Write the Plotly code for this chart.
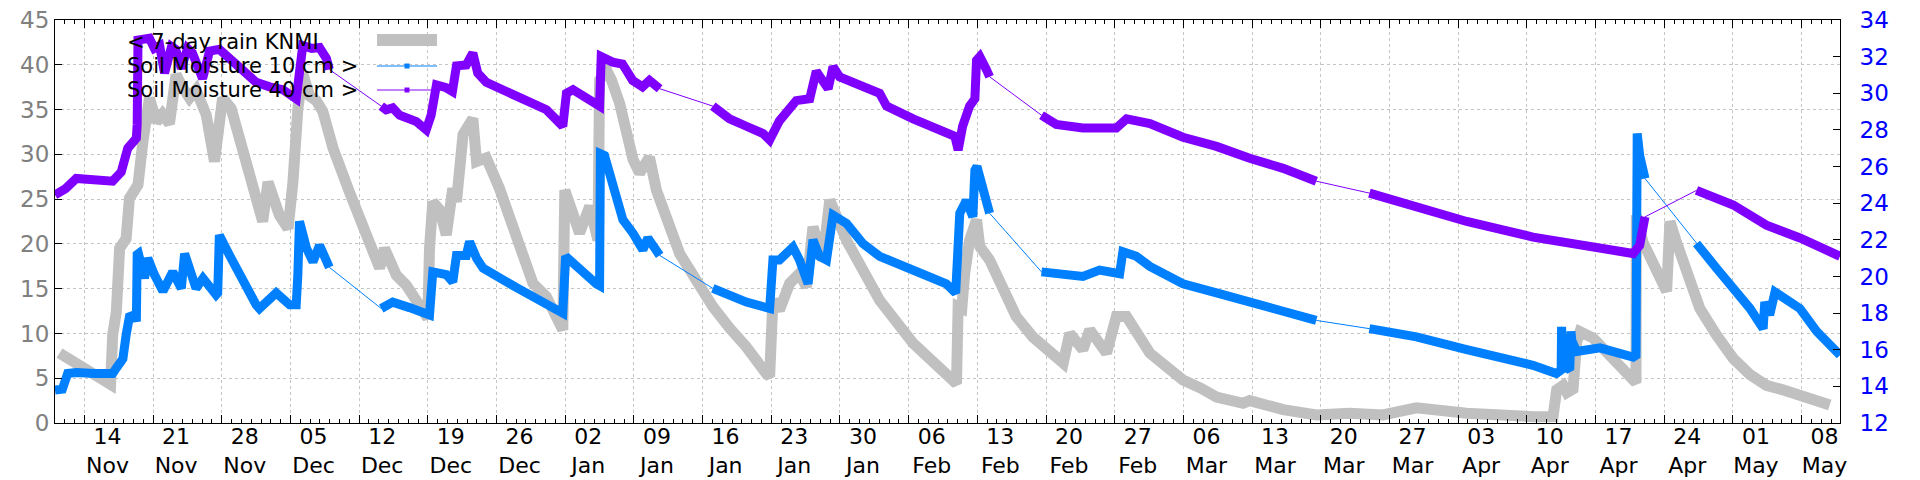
import plotly.graph_objects as go

# ---------------- data ----------------
rain_dates = [
    "2022-11-11 11:00", "2022-11-13 12:00", "2022-11-16 16:00", "2022-11-16 21:00", "2022-11-17 06:00",
    "2022-11-17 14:00", "2022-11-18 06:00", "2022-11-18 14:00", "2022-11-19 11:00", "2022-11-19 23:00",
    "2022-11-20 15:00", "2022-11-21 08:00", "2022-11-21 23:00", "2022-11-22 16:00", "2022-11-23 08:00",
    "2022-11-24 00:00", "2022-11-24 17:00", "2022-11-25 09:00", "2022-11-26 10:00", "2022-11-27 06:00",
    "2022-11-27 18:00", "2022-11-28 02:00", "2022-11-28 23:00", "2022-11-30 03:00", "2022-12-01 12:00",
    "2022-12-02 04:00", "2022-12-02 17:00", "2022-12-03 21:00", "2022-12-04 18:00", "2022-12-05 06:00",
    "2022-12-05 18:00", "2022-12-06 06:00", "2022-12-06 23:00", "2022-12-07 15:00", "2022-12-08 07:00",
    "2022-12-09 08:00", "2022-12-11 00:00", "2022-12-12 17:00", "2022-12-14 02:00", "2022-12-14 14:00",
    "2022-12-15 19:00", "2022-12-16 19:00", "2022-12-18 12:00", "2022-12-19 00:00", "2022-12-19 04:00",
    "2022-12-19 12:00", "2022-12-20 05:00", "2022-12-20 21:00", "2022-12-21 13:00", "2022-12-21 22:00",
    "2022-12-22 14:00", "2022-12-23 14:00", "2022-12-23 23:00", "2022-12-24 23:00", "2022-12-26 07:00",
    "2022-12-28 00:00", "2022-12-29 17:00", "2022-12-31 02:00", "2023-01-01 18:00", "2023-01-01 23:00",
    "2023-01-02 19:00", "2023-01-03 11:00", "2023-01-04 12:00", "2023-01-05 08:00", "2023-01-05 12:00",
    "2023-01-06 05:00", "2023-01-06 17:00", "2023-01-07 13:00", "2023-01-08 22:00", "2023-01-09 14:00",
    "2023-01-10 14:00", "2023-01-11 07:00", "2023-01-13 16:00", "2023-01-15 09:00", "2023-01-17 01:00",
    "2023-01-18 18:00", "2023-01-20 11:00", "2023-01-22 12:00", "2023-01-22 20:00", "2023-01-23 04:00",
    "2023-01-23 20:00", "2023-01-24 21:00", "2023-01-25 21:00", "2023-01-26 14:00", "2023-01-27 06:00",
    "2023-01-28 06:00", "2023-01-28 23:00", "2023-01-30 16:00", "2023-02-01 08:00", "2023-02-03 01:00",
    "2023-02-06 11:00", "2023-02-09 20:00", "2023-02-10 21:00", "2023-02-11 01:00", "2023-02-11 10:00",
    "2023-02-11 17:00", "2023-02-12 05:00", "2023-02-12 22:00", "2023-02-13 06:00", "2023-02-14 06:00",
    "2023-02-16 23:00", "2023-02-18 16:00", "2023-02-20 09:00", "2023-02-21 18:00", "2023-02-22 10:00",
    "2023-02-23 18:00", "2023-02-24 11:00", "2023-02-26 04:00", "2023-02-27 04:00", "2023-02-28 05:00",
    "2023-03-02 14:00", "2023-03-04 09:00", "2023-03-05 23:00", "2023-03-07 18:00", "2023-03-09 09:00",
    "2023-03-12 02:00", "2023-03-12 18:00", "2023-03-16 04:00", "2023-03-19 13:00", "2023-03-22 23:00",
    "2023-03-26 08:00", "2023-03-29 18:00", "2023-04-02 04:00", "2023-04-03 21:00", "2023-04-10 15:00",
    "2023-04-12 16:00", "2023-04-13 01:00", "2023-04-13 17:00", "2023-04-14 02:00", "2023-04-14 17:00",
    "2023-04-15 02:00", "2023-04-15 10:00", "2023-04-16 18:00", "2023-04-20 20:00", "2023-04-21 03:00",
    "2023-04-21 04:00", "2023-04-21 20:00", "2023-04-24 06:00", "2023-04-24 14:00", "2023-04-25 06:00",
    "2023-04-26 10:00", "2023-04-27 15:00", "2023-04-29 08:00", "2023-05-01 01:00", "2023-05-02 18:00",
    "2023-05-04 10:00", "2023-05-06 02:00", "2023-05-07 20:00", "2023-05-10 21:00",
]
rain_mm = [
    7.8, 6.3, 4.3, 9.8, 12.4,
    19.5, 20.6, 25.1, 26.6, 31.4,
    36.3, 33.6, 34.5, 33.4, 38.9,
    37.5, 36.3, 37.2, 34.4, 29.2,
    33.3, 36.3, 35.1, 30.7, 24.7,
    22.5, 26.9, 23.2, 21.7, 26.9,
    35.1, 39.0, 36.5, 36.0, 34.8,
    30.7, 25.8, 21.4, 17.3, 19.5,
    16.5, 15.4, 12.1, 11.7, 19.5,
    24.7, 23.8, 21.0, 26.2, 24.7,
    32.2, 34.0, 29.2, 29.6, 26.2,
    21.3, 15.6, 14.1, 10.4, 26.0,
    23.4, 21.2, 24.2, 20.4, 38.3,
    39.4, 38.3, 35.7, 29.4, 27.9,
    29.7, 26.0, 18.9, 15.6, 13.0,
    10.6, 8.5, 5.5, 5.2, 13.7,
    12.6, 15.6, 16.7, 15.2, 21.9,
    18.2, 24.9, 20.4, 17.1, 13.7,
    8.9, 5.2, 4.4, 13.0, 12.8,
    16.7, 20.4, 22.7, 19.7, 18.2,
    11.9, 9.6, 7.8, 6.7, 10.0,
    8.2, 10.4, 7.8, 11.9, 11.9,
    7.8, 6.1, 4.8, 3.9, 2.9,
    2.2, 2.5, 1.5, 0.9, 1.1,
    0.9, 1.7, 1.2, 1.1, 0.7,
    0.7, 3.7, 4.2, 3.4, 3.8,
    9.1, 10.2, 9.5, 5.0, 4.5,
    23.2, 20.2, 14.7, 22.5, 20.2,
    16.2, 12.8, 9.8, 7.2, 5.4,
    4.2, 3.7, 3.1, 2.0,
]

# Soil moisture 10 cm (None = logger gap)
sm10_dates = [
    "2022-11-11 00:00", "2022-11-11 18:00", "2022-11-12 07:00", "2022-11-13 04:00", "2022-11-15 01:00",
    "2022-11-16 21:00", "2022-11-17 06:00", "2022-11-17 22:00", "2022-11-18 06:00", "2022-11-18 14:00",
    "2022-11-19 02:00", "2022-11-19 07:00", "2022-11-19 09:00", "2022-11-19 12:00", "2022-11-20 03:00",
    "2022-11-20 11:00", "2022-11-21 03:00", "2022-11-22 00:00", "2022-11-23 00:00", "2022-11-23 21:00",
    "2022-11-24 05:00", "2022-11-25 09:00", "2022-11-26 02:00", "2022-11-27 10:00", "2022-11-27 14:00",
    "2022-11-27 18:00", "2022-11-28 19:00", "2022-11-30 03:00", "2022-12-01 12:00", "2022-12-01 20:00",
    "2022-12-02 16:00", "2022-12-03 13:00", "2022-12-04 22:00", "2022-12-05 14:00", "2022-12-05 18:00",
    "2022-12-05 22:00", "2022-12-06 15:00", "2022-12-07 07:00", "2022-12-07 23:00", "2022-12-08 23:00",
    "2022-12-11 12:00",
    "2022-12-14 06:00", "2022-12-15 10:00", "2022-12-17 03:00", "2022-12-18 20:00", "2022-12-19 04:00",
    "2022-12-19 12:00", "2022-12-20 21:00", "2022-12-21 13:00", "2022-12-21 22:00", "2022-12-22 22:00",
    "2022-12-23 06:00", "2022-12-23 23:00", "2022-12-24 15:00", "2022-12-28 00:00", "2022-12-31 02:00",
    "2023-01-01 18:00", "2023-01-02 01:00", "2023-01-02 19:00", "2023-01-05 04:00", "2023-01-05 12:00",
    "2023-01-05 14:00", "2023-01-06 00:00", "2023-01-06 21:00", "2023-01-07 21:00", "2023-01-08 22:00",
    "2023-01-09 22:00", "2023-01-10 10:00", "2023-01-11 15:00",
    "2023-01-14 08:00",
    "2023-01-17 01:00", "2023-01-18 18:00", "2023-01-20 11:00", "2023-01-22 20:00", "2023-01-23 04:00",
    "2023-01-23 20:00", "2023-01-25 05:00", "2023-01-25 21:00", "2023-01-26 18:00", "2023-01-27 06:00",
    "2023-01-27 22:00", "2023-01-28 15:00", "2023-01-29 07:00", "2023-01-30 16:00", "2023-02-01 08:00",
    "2023-02-03 01:00", "2023-02-06 11:00", "2023-02-09 20:00", "2023-02-10 19:00", "2023-02-11 01:00",
    "2023-02-11 05:00", "2023-02-11 21:00", "2023-02-12 13:00", "2023-02-12 18:00", "2023-02-12 23:00",
    "2023-02-14 06:00",
    "2023-02-17 00:00",
    "2023-02-19 13:00", "2023-02-23 18:00", "2023-02-25 11:00", "2023-02-27 12:00", "2023-02-27 20:00",
    "2023-03-01 05:00", "2023-03-02 14:00", "2023-03-05 23:00", "2023-03-09 09:00", "2023-03-12 18:00",
    "2023-03-16 04:00", "2023-03-19 13:00",
    "2023-03-22 00:00",
    "2023-03-24 23:00", "2023-03-29 18:00", "2023-04-03 21:00", "2023-04-07 06:00", "2023-04-10 15:00",
    "2023-04-13 00:00", "2023-04-13 12:00", "2023-04-13 13:00", "2023-04-13 16:00", "2023-04-13 21:00",
    "2023-04-14 02:00", "2023-04-14 09:00", "2023-04-14 12:00", "2023-04-14 14:00", "2023-04-15 02:00",
    "2023-04-17 11:00", "2023-04-20 20:00", "2023-04-21 03:00", "2023-04-21 06:00", "2023-04-21 10:00",
    "2023-04-21 12:00", "2023-04-22 01:00",
    "2023-04-24 12:00",
    "2023-04-27 07:00", "2023-04-27 15:00", "2023-04-29 08:00", "2023-05-01 01:00", "2023-05-02 18:00",
    "2023-05-04 02:00", "2023-05-04 06:00", "2023-05-04 18:00", "2023-05-05 07:00", "2023-05-07 20:00",
    "2023-05-09 13:00", "2023-05-11 22:00",
]
sm10 = [
    13.8, 13.85, 14.7, 14.75, 14.7,
    14.7, 15.0, 15.5, 16.8, 17.8,
    17.9, 17.55, 21.2, 21.25, 19.9,
    21.0, 20.1, 19.2, 20.25, 19.35,
    21.25, 19.35, 19.9, 19.0, 19.1,
    22.25, 21.15, 19.7, 18.45, 18.25,
    18.6, 19.1, 18.45, 18.45, 20.1,
    23.0, 21.55, 20.8, 21.7, 20.5,
    None,
    18.25, 18.6, 18.3, 17.9, 17.9,
    20.25, 20.1, 19.7, 21.15, 21.15,
    21.9, 21.0, 20.45, 19.4, 18.55,
    18.0, 21.1, 20.7, 19.6, 19.5,
    26.7, 26.6, 24.9, 23.1, 22.35,
    21.45, 22.1, 21.15,
    None,
    19.35, 19.0, 18.6, 18.25, 20.9,
    20.9, 21.6, 20.9, 19.6, 22.0,
    21.1, 20.9, 23.35, 22.9, 21.8,
    21.1, 20.35, 19.6, 19.1, 20.9,
    23.45, 24.15, 23.25, 25.8, 26.0,
    23.45,
    None,
    20.25, 20.0, 20.35, 20.15, 21.35,
    21.1, 20.55, 19.6, 19.1, 18.55,
    18.1, 17.6,
    None,
    17.15, 16.7, 16.0, 15.55, 15.15,
    14.7, 14.9, 17.25, 14.9, 15.8,
    15.0, 14.9, 17.0, 16.5, 15.9,
    16.1, 15.6, 15.7, 27.8, 27.0,
    26.6, 25.35,
    None,
    21.8, 21.55, 20.45, 19.35, 18.25,
    17.15, 18.6, 17.9, 19.15, 18.25,
    17.0, 15.7,
]

# Soil moisture 40 cm (None = logger gap)
sm40_dates = [
    "2022-11-11 00:00", "2022-11-12 02:00", "2022-11-13 04:00", "2022-11-15 01:00", "2022-11-16 21:00",
    "2022-11-17 18:00", "2022-11-18 10:00", "2022-11-19 07:00", "2022-11-19 09:00", "2022-11-19 11:00",
    "2022-11-20 00:00", "2022-11-20 15:00", "2022-11-21 03:00", "2022-11-21 16:00", "2022-11-22 04:00",
    "2022-11-22 21:00", "2022-11-23 07:00", "2022-11-23 21:00", "2022-11-24 12:00", "2022-11-25 00:00",
    "2022-11-26 01:00", "2022-11-26 18:00", "2022-11-27 18:00", "2022-11-29 11:00", "2022-12-01 12:00",
    "2022-12-02 21:00", "2022-12-04 05:00", "2022-12-05 14:00", "2022-12-05 22:00", "2022-12-06 06:00",
    "2022-12-07 04:00", "2022-12-07 23:00", "2022-12-08 16:00", "2022-12-08 23:00",
    "2022-12-11 12:00",
    "2022-12-14 06:00", "2022-12-14 18:00", "2022-12-15 10:00", "2022-12-16 03:00", "2022-12-17 20:00",
    "2022-12-18 20:00", "2022-12-19 08:00", "2022-12-19 21:00", "2022-12-20 21:00", "2022-12-21 12:00",
    "2022-12-21 22:00", "2022-12-22 22:00", "2022-12-23 14:00", "2022-12-24 02:00", "2022-12-24 23:00",
    "2022-12-28 00:00", "2022-12-31 02:00", "2023-01-01 18:00", "2023-01-02 03:00", "2023-01-02 19:00",
    "2023-01-05 04:00", "2023-01-05 12:00", "2023-01-05 16:00", "2023-01-06 20:00", "2023-01-07 20:00",
    "2023-01-08 21:00", "2023-01-09 21:00", "2023-01-10 14:00", "2023-01-11 15:00",
    "2023-01-14 08:00",
    "2023-01-17 01:00", "2023-01-18 18:00", "2023-01-20 11:00", "2023-01-22 04:00", "2023-01-22 20:00",
    "2023-01-23 20:00", "2023-01-25 13:00", "2023-01-26 22:00", "2023-01-27 14:00", "2023-01-28 06:00",
    "2023-01-28 19:00", "2023-01-29 07:00", "2023-01-29 23:00", "2023-02-03 01:00", "2023-02-03 18:00",
    "2023-02-06 11:00", "2023-02-09 20:00", "2023-02-10 17:00", "2023-02-11 01:00", "2023-02-11 12:00",
    "2023-02-12 05:00", "2023-02-12 18:00", "2023-02-12 22:00", "2023-02-13 06:00", "2023-02-13 22:00",
    "2023-02-14 06:00",
    "2023-02-17 00:00",
    "2023-02-19 13:00", "2023-02-21 01:00", "2023-02-23 18:00", "2023-02-27 04:00", "2023-02-28 05:00",
    "2023-03-02 14:00", "2023-03-05 23:00", "2023-03-09 09:00", "2023-03-12 18:00", "2023-03-16 04:00",
    "2023-03-19 13:00",
    "2023-03-22 00:00",
    "2023-03-24 23:00", "2023-03-29 18:00", "2023-04-03 21:00", "2023-04-10 15:00", "2023-04-17 11:00",
    "2023-04-20 20:00", "2023-04-21 12:00", "2023-04-22 01:00",
    "2023-04-24 12:00",
    "2023-04-27 07:00", "2023-05-01 01:00", "2023-05-04 10:00", "2023-05-07 20:00", "2023-05-11 22:00",
]
sm40 = [
    24.45, 24.8, 25.35, 25.25, 25.2,
    25.7, 27.0, 27.55, 28.3, 32.9,
    33.0, 33.0, 32.45, 32.6, 31.1,
    32.55, 32.4, 31.35, 32.45, 32.2,
    30.8, 32.3, 32.4, 31.55, 30.6,
    30.35, 30.2, 29.7, 31.5, 32.6,
    32.45, 32.5, 31.9, 31.3,
    None,
    29.3, 29.1, 29.2, 28.8, 28.45,
    28.0, 28.8, 30.45, 30.3, 30.1,
    31.5, 31.55, 32.2, 31.1, 30.6,
    29.9, 29.1, 28.2, 30.0, 30.2,
    29.45, 29.3, 32.0, 31.7, 31.6,
    30.7, 30.35, 30.7, 30.25,
    None,
    29.3, 28.6, 28.2, 27.8, 27.45,
    28.5, 29.6, 29.7, 31.2, 30.7,
    30.25, 31.45, 30.9, 30.0, 29.3,
    28.6, 27.8, 27.65, 26.9, 28.2,
    29.3, 29.7, 31.8, 32.0, 31.3,
    30.9,
    None,
    28.8, 28.3, 28.1, 28.1, 28.6,
    28.35, 27.6, 27.1, 26.45, 25.9,
    25.2,
    None,
    24.55, 23.75, 23.0, 22.15, 21.6,
    21.25, 21.7, 23.25,
    None,
    24.7, 23.9, 22.8, 22.1, 21.1,
]

legend_labels = ["< 7-day rain KNMI", "Soil Moisture 10 cm >", "Soil Moisture 40 cm >"]

# ---------------- styling ----------------
RAIN_COLOR = "#c0c0c0"
SM10_COLOR = "#0080ff"
SM40_COLOR = "#8000ff"
FONT = "DejaVu Sans"
TICK_SIZE = 23

fig = go.Figure()

fig.add_trace(go.Scatter(x=rain_dates, y=rain_mm, mode="lines", yaxis="y",
                         line=dict(color=RAIN_COLOR, width=11), showlegend=False,
                         name=legend_labels[0]))

for dates, vals, col, name in [(sm10_dates, sm10, SM10_COLOR, legend_labels[1]),
                               (sm40_dates, sm40, SM40_COLOR, legend_labels[2])]:
    # thin connecting line across logger gaps
    fig.add_trace(go.Scatter(x=dates, y=vals, mode="lines", yaxis="y2", connectgaps=True,
                             line=dict(color=col, width=1), showlegend=False, name=name))
    # dense band of measured points
    fig.add_trace(go.Scatter(x=dates, y=vals, mode="lines", yaxis="y2", connectgaps=False,
                             line=dict(color=col, width=9), showlegend=False, name=name))

# ---------------- custom key (text left, sample right, as in gnuplot) ----------------
def px2x(px):
    return (px - 55) / 1785.0


def py2y(py):
    return (423 - py) / 403.0


key_rows = [42, 66, 90]
for lbl, row in zip(legend_labels, key_rows):
    fig.add_annotation(x=px2x(125), y=py2y(row), xref="paper", yref="paper", text=lbl,
                       showarrow=False, xanchor="left", yanchor="middle",
                       font=dict(family=FONT, size=21, color="black"))

fig.add_shape(type="line", xref="paper", yref="paper", x0=px2x(377), x1=px2x(437),
              y0=py2y(40), y1=py2y(40), line=dict(color=RAIN_COLOR, width=12))
for row, col in [(66, SM10_COLOR), (90, SM40_COLOR)]:
    fig.add_shape(type="line", xref="paper", yref="paper", x0=px2x(377), x1=px2x(437),
                  y0=py2y(row), y1=py2y(row), line=dict(color=col, width=1))
    fig.add_shape(type="rect", xref="paper", yref="paper", x0=px2x(404.5), x1=px2x(409.5),
                  y0=py2y(row + 2.5), y1=py2y(row - 2.5), line=dict(width=0), fillcolor=col)

# ---------------- axes ----------------
grid = dict(showgrid=True, gridcolor="#c4c4c4", griddash="dot", gridwidth=1)

fig.update_layout(
    width=1920, height=480,
    margin=dict(l=55, r=80, t=20, b=57, pad=0, autoexpand=False),
    paper_bgcolor="white", plot_bgcolor="white",
    font=dict(family=FONT, size=20, color="black"),
    showlegend=False,
    xaxis=dict(
        type="date", automargin=False,
        range=["2022-11-11 00:00", "2023-05-11 22:00"],
        tick0="2022-11-14", dtick=7 * 86400000,
        tickformat="%d<br>%b",
        ticks="inside", ticklen=8, tickcolor="black", tickwidth=1,
        showline=True, linecolor="black", linewidth=1, mirror="ticks",
        tickfont=dict(family=FONT, size=22, color="black"),
        ticklabelshift=23, ticklabelstandoff=-6,
        minor=dict(tick0="2022-11-14", dtick=86400000, ticks="inside", ticklen=4,
                   tickcolor="black", showgrid=False),
        zeroline=False,
        **grid,
    ),
    yaxis=dict(
        automargin=False,
        range=[0, 45], dtick=5,
        ticks="inside", ticklen=7, tickcolor="black",
        showline=True, linecolor="black", linewidth=1,
        tickfont=dict(family=FONT, size=TICK_SIZE, color="#808080"),
        ticklabelstandoff=0,
        zeroline=False,
        **grid,
    ),
    yaxis2=dict(
        automargin=False,
        range=[12, 34], dtick=2, overlaying="y", side="right",
        ticks="inside", ticklen=7, tickcolor="black",
        showline=True, linecolor="black", linewidth=1,
        tickfont=dict(family=FONT, size=TICK_SIZE, color="#0000ff"),
        ticklabelstandoff=14,
        showgrid=False, zeroline=False,
    ),
)

# remove the browser's default 8px body margin so the figure sits at (0, 0)
fig.write_html("out.html", config={"displayModeBar": False},
               post_script="document.body.style.margin='0';")
